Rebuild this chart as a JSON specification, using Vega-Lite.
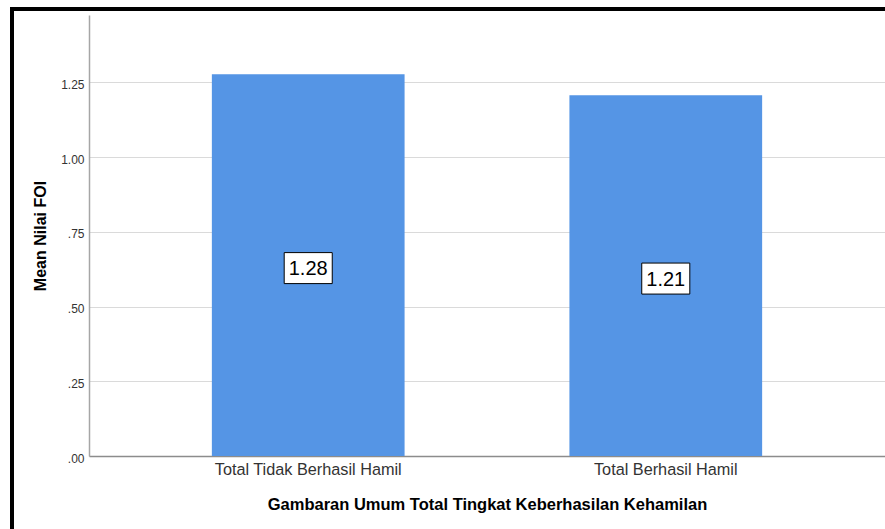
{
  "$schema": "https://vega.github.io/schema/vega-lite/v6.json",
  "width": 873,
  "height": 520,
  "autosize": {"type": "none"},
  "padding": {"left": 12, "top": 9, "right": 0, "bottom": 0},
  "background": "white",
  "view": {"stroke": "#000000", "strokeWidth": 4, "strokeDash": [873, 1393, 600], "fill": "white"},
  "config": {"font": "Liberation Sans"},
  "data": {
    "values": [
      {"group": "Total Tidak Berhasil Hamil", "value": 1.277},
      {"group": "Total Berhasil Hamil", "value": 1.207}
    ]
  },
  "encoding": {
    "x": {
      "field": "group",
      "type": "nominal",
      "sort": null,
      "scale": {"range": [77, 873], "paddingInner": 0.461, "paddingOuter": 0.3436},
      "axis": {
        "title": "Gambaran Umum Total Tingkat Keberhasilan Kehamilan",
        "offset": -73,
        "labelAngle": 0,
        "labelFontSize": 16.25,
        "labelColor": "#333333",
        "labelPadding": 5,
        "labelLimit": 0,
        "ticks": false,
        "domainColor": "#8c8c8c",
        "domainWidth": 1.5,
        "grid": false,
        "titleFontSize": 16.5,
        "titleFontWeight": "bold",
        "titleColor": "#000000",
        "titlePadding": 19
      }
    }
  },
  "layer": [
    {
      "mark": {"type": "bar", "fill": "#5595e5"},
      "encoding": {
        "y": {
          "field": "value",
          "type": "quantitative",
          "scale": {"domain": [0, 1.475], "range": [447, 6], "nice": false, "zero": true},
          "axis": {
            "title": "Mean Nilai FOI",
            "offset": -77,
            "values": [0, 0.25, 0.5, 0.75, 1, 1.25],
            "labelExpr": "datum.value < 1 ? replace(format(datum.value, '.2f'), '0.', '.') : format(datum.value, '.2f')",
            "labelFontSize": 12,
            "labelColor": "#333333",
            "labelPadding": 5,
            "labelOffset": 2,
            "ticks": false,
            "domainColor": "#a6a6a6",
            "domainWidth": 1.5,
            "grid": true,
            "gridColor": "#dadada",
            "gridWidth": 1,
            "titleFontSize": 16,
            "titleFontWeight": "bold",
            "titleColor": "#000000",
            "titlePadding": 12
          }
        }
      }
    },
    {
      "mark": {"type": "point", "shape": "M-1.55,-1H1.55V1H-1.55Z", "size": 961, "filled": true, "fill": "white", "stroke": "black", "strokeWidth": 1, "opacity": 1, "yOffset": 3},
      "encoding": {
        "y": {"field": "value", "type": "quantitative", "scale": {"domain": [0, 2.95], "range": [447, 6], "nice": false}, "axis": null}
      }
    },
    {
      "mark": {"type": "text", "fontSize": 20, "color": "black", "align": "center", "baseline": "middle", "yOffset": 4},
      "encoding": {
        "y": {"field": "value", "type": "quantitative", "scale": {"domain": [0, 2.95], "range": [447, 6], "nice": false}, "axis": null},
        "text": {"field": "value", "type": "quantitative", "format": ".2f"}
      }
    }
  ],
  "resolve": {"scale": {"y": "independent"}}
}
